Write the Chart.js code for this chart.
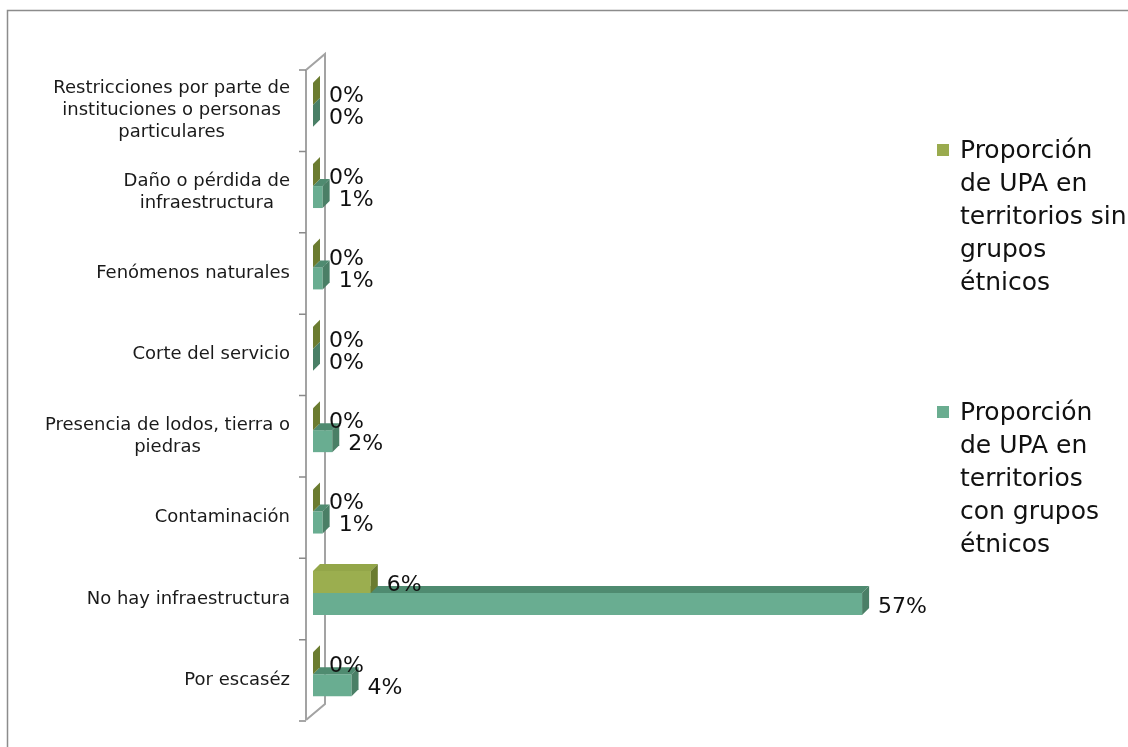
<!DOCTYPE html>
<html>
<head>
<meta charset="utf-8">
<script src="https://cdn.jsdelivr.net/npm/chart.js@4/dist/chart.umd.min.js"></script>
<style>
  html, body { margin: 0; padding: 0; background: #fff; }
  #wrap { position: relative; width: 1128px; height: 747px; overflow: hidden; }
  #c { position: absolute; left: 0; top: 0; }
  .legend-item { position: absolute; left: 937px; font-family: "DejaVu Sans", sans-serif; font-size: 25px; line-height: 33px; color: #111; }
  .legend-item .sw { position: absolute; left: 0; width: 12px; height: 12px; }
  .legend-item .tx { position: absolute; left: 23px; top: 0; white-space: nowrap; }
</style>
</head>
<body>
<div id="wrap">
  <canvas id="c" width="1128" height="747"></canvas>
</div>
<script>
// Categories (top to bottom), each split into its display lines
const categories = [
  ["Restricciones por parte de", "instituciones o personas", "particulares"],
  ["Daño o pérdida de", "infraestructura"],
  ["Fenómenos naturales"],
  ["Corte del servicio"],
  ["Presencia de lodos, tierra o", "piedras"],
  ["Contaminación"],
  ["No hay infraestructura"],
  ["Por escaséz"]
];

// Series names and their wrapped legend lines
const seriesNames = [
  "Proporción de UPA en territorios sin grupos étnicos",
  "Proporción de UPA en territorios con grupos étnicos"
];
const legendLines = [
  ["Proporción", "de UPA en", "territorios sin", "grupos", "étnicos"],
  ["Proporción", "de UPA en", "territorios", "con grupos", "étnicos"]
];

// Values in percent
const sinGrupos = [0, 0, 0, 0, 0, 0, 6, 0];
const conGrupos = [0, 1, 1, 0, 2, 1, 57, 4];

// Colours: front, top and side faces of the 3D bars
const palette = [
  { front: "#9bae4f", top: "#93a649", side: "#6b7c30", swatch: "#9aab4e" },
  { front: "#69ad91", top: "#4f8b70", side: "#4a7f66", swatch: "#6aad90" }
];

const DEPTH_X = 7, DEPTH_Y = 7;
const FONT = '"DejaVu Sans", sans-serif';

// Outer frame of the chart
const framePlugin = {
  id: "frame",
  beforeDraw(chart) {
    const ctx = chart.ctx;
    ctx.save();
    ctx.strokeStyle = "#8c8c8c";
    ctx.lineWidth = 1.5;
    ctx.strokeRect(7.5, 10.5, 1400, 1000);
    ctx.restore();
  }
};

// 3D wall: front axis line, back wall edge, tick marks and category labels
const wallPlugin = {
  id: "wall",
  beforeDatasetsDraw(chart) {
    const ctx = chart.ctx;
    const a = chart.chartArea;
    const base = chart.scales.x.getPixelForValue(0);
    const fx = base - 7, bx = base + 12;
    const yTop = a.top + 6, yBot = a.bottom + 5;
    ctx.save();
    ctx.strokeStyle = "#a3a3a3";
    ctx.lineWidth = 2;
    ctx.beginPath();
    ctx.moveTo(fx, yTop); ctx.lineTo(fx, yBot);
    ctx.moveTo(fx, yTop); ctx.lineTo(bx, yTop - 16); ctx.lineTo(bx, yBot - 16); ctx.lineTo(fx, yBot);
    ctx.stroke();
    // tick marks at the category boundaries
    const band = (a.bottom - a.top) / categories.length;
    ctx.strokeStyle = "#8a8a8a";
    ctx.lineWidth = 1.5;
    ctx.beginPath();
    for (let i = 0; i <= categories.length; i++) {
      const y = a.top + i * band + 6;
      ctx.moveTo(fx - 7, y); ctx.lineTo(fx, y);
    }
    ctx.stroke();
    ctx.restore();
  },
  afterDraw(chart) {
    const ctx = chart.ctx;
    const yScale = chart.scales.y;
    const base = chart.scales.x.getPixelForValue(0);
    const right = base - 23;
    const lh = 22;
    ctx.save();
    ctx.font = "18px " + FONT;
    ctx.fillStyle = "#1a1a1a";
    ctx.textAlign = "center";
    ctx.textBaseline = "middle";
    categories.forEach((lines, i) => {
      const cy = yScale.getPixelForValue(i) + 6;
      const maxW = Math.max(...lines.map(l => ctx.measureText(l).width));
      const cx = right - maxW / 2;
      lines.forEach((l, k) => {
        ctx.fillText(l, cx, cy - (lines.length - 1) * lh / 2 + k * lh);
      });
    });
    ctx.restore();
  }
};

// Top and side faces of each bar, drawn right after its dataset
const bar3dPlugin = {
  id: "bar3d",
  afterDatasetDraw(chart, args) {
    const ctx = chart.ctx;
    const col = palette[args.index];
    ctx.save();
    args.meta.data.forEach(el => {
      const p = el.getProps(["x", "y", "base", "height"], true);
      const top = p.y - p.height / 2, bot = p.y + p.height / 2;
      const x0 = p.base, x1 = p.x;
      // top face
      ctx.fillStyle = col.top;
      ctx.beginPath();
      ctx.moveTo(x0, top); ctx.lineTo(x1, top);
      ctx.lineTo(x1 + DEPTH_X, top - DEPTH_Y); ctx.lineTo(x0 + DEPTH_X, top - DEPTH_Y);
      ctx.closePath(); ctx.fill();
      // side face
      ctx.fillStyle = col.side;
      ctx.beginPath();
      ctx.moveTo(x1, top); ctx.lineTo(x1 + DEPTH_X, top - DEPTH_Y);
      ctx.lineTo(x1 + DEPTH_X, bot - DEPTH_Y); ctx.lineTo(x1, bot);
      ctx.closePath(); ctx.fill();
    });
    ctx.restore();
  },
  afterDatasetsDraw(chart) {
    const ctx = chart.ctx;
    ctx.save();
    ctx.font = "22px " + FONT;
    ctx.fillStyle = "#111";
    ctx.textAlign = "left";
    ctx.textBaseline = "middle";
    chart.data.datasets.forEach((ds, d) => {
      chart.getDatasetMeta(d).data.forEach((el, i) => {
        const p = el.getProps(["x", "y"], true);
        ctx.fillText(ds.data[i] + "%", p.x + 16, p.y + 3);
      });
    });
    ctx.restore();
  }
};

new Chart(document.getElementById("c"), {
  type: "bar",
  data: {
    labels: categories.map(c => c.join(" ")),
    datasets: [
      { label: seriesNames[0], data: sinGrupos, backgroundColor: palette[0].front,
        borderWidth: 0, categoryPercentage: 0.54, barPercentage: 1 },
      { label: seriesNames[1], data: conGrupos, backgroundColor: palette[1].front,
        borderWidth: 0, categoryPercentage: 0.54, barPercentage: 1 }
    ]
  },
  options: {
    indexAxis: "y",
    responsive: false,
    animation: false,
    devicePixelRatio: 1,
    layout: { padding: { left: 313, right: 237, top: 64, bottom: 32 } },
    scales: {
      x: { display: false, min: 0, max: 60 },
      y: { display: false }
    },
    plugins: { legend: { display: false }, tooltip: { enabled: false } }
  },
  plugins: [framePlugin, wallPlugin, bar3dPlugin]
});

// Legend on the right, built from the series names and colours
const wrap = document.getElementById("wrap");
const legendTops = [133, 395];
legendLines.forEach((lines, i) => {
  const item = document.createElement("div");
  item.className = "legend-item";
  item.style.top = legendTops[i] + "px";
  item.title = seriesNames[i];
  const sw = document.createElement("div");
  sw.className = "sw";
  sw.style.background = palette[i].swatch;
  sw.style.top = "11px";
  const tx = document.createElement("div");
  tx.className = "tx";
  tx.innerHTML = lines.join("<br>");
  item.appendChild(sw);
  item.appendChild(tx);
  wrap.appendChild(item);
});
</script>
</body>
</html>
